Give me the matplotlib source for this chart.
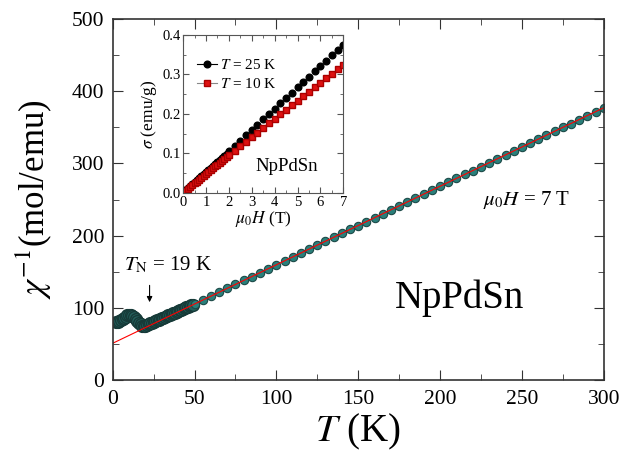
import numpy as np
import matplotlib
matplotlib.use("Agg")
from matplotlib import pyplot as plt
from matplotlib.ticker import MultipleLocator, FormatStrFormatter
from matplotlib.lines import Line2D

plt.rcParams['font.family'] = ['Liberation Serif', 'DejaVu Serif']
plt.rcParams['mathtext.fontset'] = 'stix'

# inverse susceptibility, mu0H = 7 T
T_low = [2, 3, 4, 5, 6, 7, 8, 9, 10, 11, 12, 13, 14, 15, 16, 17, 18, 19, 20,
         21, 22, 23, 24, 25, 26, 27, 28, 29, 30, 31, 32, 33, 34, 35, 36, 37,
         38, 39, 40, 41, 42, 43, 44, 45, 46, 47, 48, 49]
chi_low = [81, 81, 81.5, 82.5, 84, 86, 88, 89.5, 90, 90, 89, 87, 84.5, 82, 79,
           77, 75.5, 75, 75.5, 76.5, 77.5, 78.5, 79.5, 80.5, 81.5, 82.5, 83.5,
           84.5, 85.5, 86.5, 87.5, 88.5, 89.5, 90.5, 91.5, 92.5, 93.5, 94.5,
           95.5, 96.5, 97.5, 98.5, 99.5, 100.5, 101.5, 102.5, 103.4, 104.4]
T_high = [50, 55, 60, 65, 70, 75, 80, 85, 90, 95, 100, 105, 110, 115, 120,
          125, 130, 135, 140, 145, 150, 155, 160, 165, 170, 175, 180, 185, 190,
          195, 200, 205, 210, 215, 220, 225, 230, 235, 240, 245, 250, 255, 260,
          265, 270, 275, 280, 285, 290, 295, 300]
chi_high = [105.4, 110.8, 116.2, 121.7, 127.1, 132.5, 138.0, 143.4, 148.8,
            154.3, 159.7, 165.1, 170.6, 176.0, 181.4, 186.9, 192.3, 197.7,
            203.2, 208.6, 214.0, 219.5, 224.9, 230.3, 235.8, 241.2, 246.7,
            252.1, 257.5, 263.0, 268.4, 273.8, 279.3, 284.7, 290.1, 295.6,
            301.0, 306.4, 311.9, 317.3, 322.7, 328.2, 333.6, 339.0, 344.5,
            349.9, 355.3, 360.8, 366.2, 371.6, 377.1]
# Curie-Weiss fit line endpoints
fit_T = [0, 300]
fit_chi = [51.0, 377.1]

# inset: magnetization curves
H_vals = [0.0, 0.1, 0.2, 0.3, 0.4, 0.5, 0.6, 0.7, 0.8, 0.9, 1.0, 1.1, 1.2,
          1.3, 1.4, 1.5, 1.6, 1.7, 1.8, 1.9, 2.0, 2.25, 2.5, 2.75, 3.0, 3.25,
          3.5, 3.75, 4.0, 4.25, 4.5, 4.75, 5.0, 5.25, 5.5, 5.75, 6.0, 6.25,
          6.5, 6.75, 7.0]
sig_25K = [0.003, 0.008, 0.013, 0.018, 0.023, 0.028, 0.033, 0.038, 0.043,
           0.048, 0.053, 0.058, 0.063, 0.068, 0.073, 0.078, 0.083, 0.088,
           0.093, 0.099, 0.105, 0.119, 0.132, 0.146, 0.159, 0.173, 0.186,
           0.200, 0.213, 0.227, 0.240, 0.254, 0.267, 0.281, 0.294, 0.308,
           0.321, 0.335, 0.348, 0.362, 0.375]
sig_10K = [0.000, 0.005, 0.010, 0.014, 0.019, 0.024, 0.029, 0.033, 0.038,
           0.043, 0.048, 0.052, 0.057, 0.062, 0.067, 0.071, 0.076, 0.081,
           0.086, 0.090, 0.095, 0.107, 0.118, 0.130, 0.141, 0.153, 0.164,
           0.176, 0.187, 0.199, 0.210, 0.222, 0.233, 0.245, 0.256, 0.268,
           0.279, 0.291, 0.302, 0.314, 0.325]

fig = plt.figure(figsize=(6.23, 4.53), dpi=100)
ax = fig.add_axes([0.181, 0.161, 0.788, 0.797])

teal = '#2a7f7a'
ax.plot(T_low, chi_low, 'o', ms=8.5, mfc='#24605c', mec='#163a38', mew=1.0)
ax.plot(T_high, chi_high, 'o', ms=6, mfc=teal, mec='#1d4a48', mew=0.8)
ax.plot(fit_T, fit_chi, '-', color='red', lw=0.8)

ax.set_xlim(0, 300)
ax.set_ylim(0, 500)
ax.xaxis.set_major_locator(MultipleLocator(50))
ax.xaxis.set_minor_locator(MultipleLocator(25))
ax.yaxis.set_major_locator(MultipleLocator(100))
ax.yaxis.set_minor_locator(MultipleLocator(50))
ax.tick_params(which='both', direction='in', top=True, right=True,
               labelsize=15.5, color='#333333')
ax.tick_params(axis='x', pad=7)
ax.tick_params(axis='y', pad=6)
ax.tick_params(which='major', length=7)
ax.tick_params(which='minor', length=4)
for s in ax.spines.values():
    s.set_color('#333333')
    s.set_linewidth(1.2)

ax.set_xlabel(r'$T$ (K)', fontsize=28, labelpad=2)
ax.set_ylabel(r'$\chi^{-1}$(mol/emu)', fontsize=25, labelpad=13)

ax.text(34, 160, r'$T_{\mathrm{N}}$ = 19 K', fontsize=15, ha='center', va='center')
ax.annotate('', xy=(22.5, 104), xytext=(22.5, 135),
            arrowprops=dict(arrowstyle='-|>', color='black', lw=0.8,
                            mutation_scale=8))
ax.text(253, 249, r'$\mu_0H$ = 7 T', fontsize=15, ha='center', va='center')
ax.text(212, 113, 'NpPdSn', fontsize=28, ha='center', va='center')

# inset
axi = fig.add_axes([0.294, 0.574, 0.257, 0.349])
axi.plot(H_vals, sig_25K, 'o', color='black', ms=4.8)
axi.plot(H_vals, sig_10K, 's', ms=4.3, mfc='#dd1111', mec='#aa0000')
axi.set_xlim(0, 7)
axi.set_ylim(0, 0.4)
axi.xaxis.set_major_locator(MultipleLocator(1))
axi.xaxis.set_minor_locator(MultipleLocator(0.5))
axi.yaxis.set_major_locator(MultipleLocator(0.1))
axi.yaxis.set_minor_locator(MultipleLocator(0.05))
axi.yaxis.set_major_formatter(FormatStrFormatter('%.1f'))
axi.tick_params(which='both', direction='in', top=True, right=True,
                labelsize=10.5, color='#555555', pad=2)
axi.tick_params(which='major', length=4)
axi.tick_params(which='minor', length=2)
for s in axi.spines.values():
    s.set_color('#555555')
axi.set_xlabel(r'$\mu_0H$ (T)', fontsize=12.5, labelpad=0)
axi.set_ylabel(r'$\sigma$ (emu/g)', fontsize=12.5, labelpad=2)
axi.text(4.55, 0.066, 'NpPdSn', fontsize=13.5, ha='center', va='center')

handles = [Line2D([], [], color='black', marker='o', ms=4.8, lw=0.8),
           Line2D([], [], color='#888888', marker='s', ms=4.3, lw=0.8,
                  mfc='#dd1111', mec='#aa0000')]
axi.legend(handles, [r'$T$ = 25 K', r'$T$ = 10 K'], loc='upper left',
           bbox_to_anchor=(0.05, 0.89), frameon=False, fontsize=11,
           handlelength=1.3, handletextpad=0.2, labelspacing=0.3,
           borderaxespad=0.0)

fig.savefig('out.png', dpi=100)
